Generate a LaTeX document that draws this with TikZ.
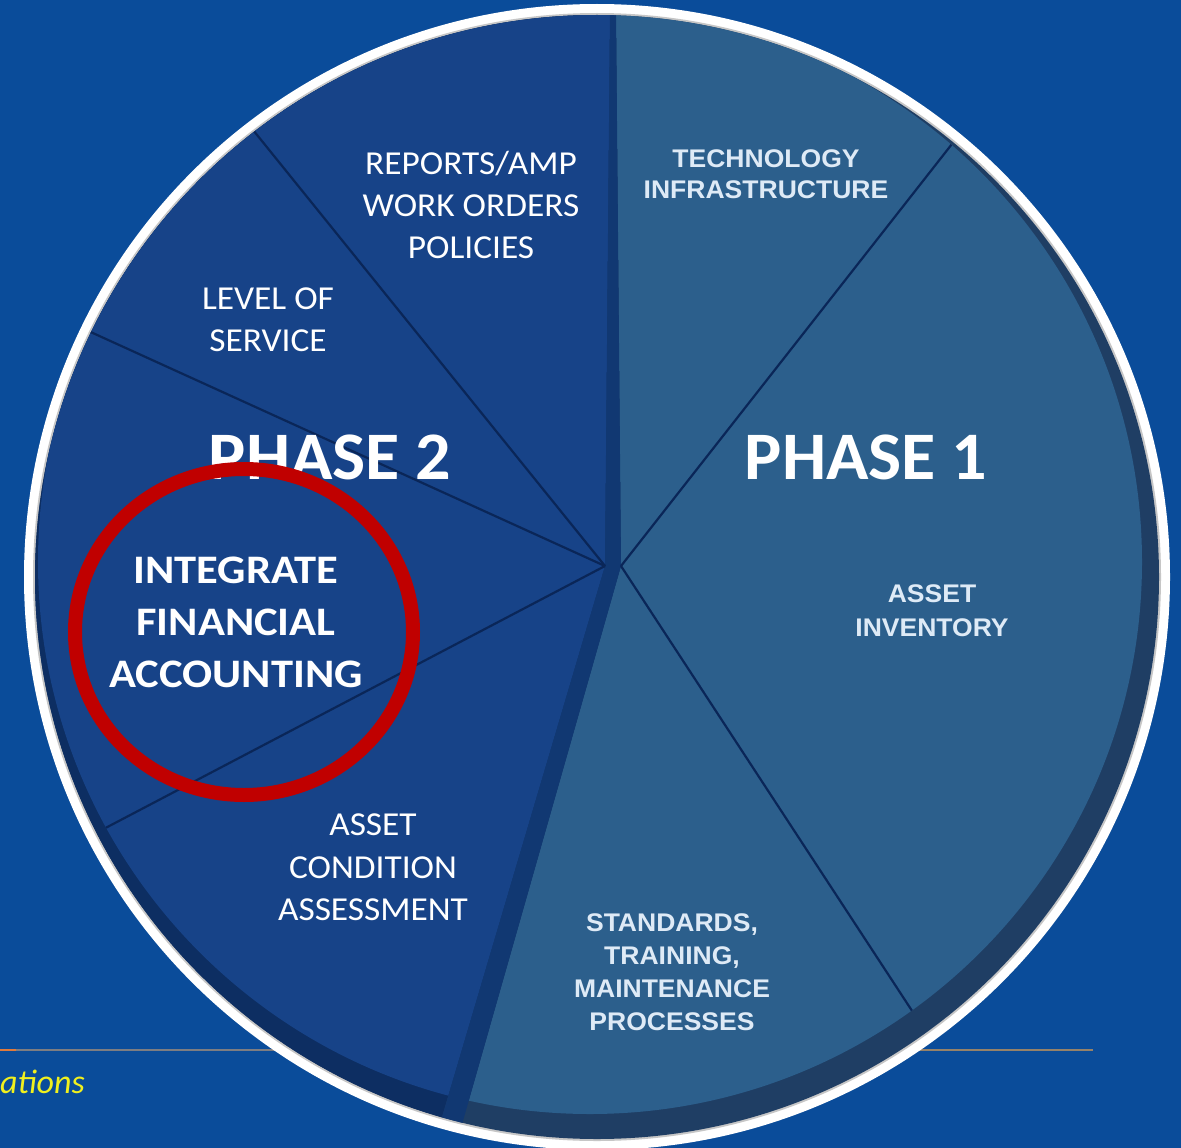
\documentclass[tikz,border=0pt]{standalone}
\usepackage{fontspec}
\setmainfont{Carlito}
\newfontfamily\calA[FakeStretch=1.055]{Carlito}
\newfontfamily\calB[FakeStretch=1.1]{Carlito}
\newfontfamily\calC[FakeStretch=1.03]{Carlito}
\newfontfamily\arialf[FakeStretch=1.04]{Liberation Sans}
\definecolor{bg}{RGB}{10,76,154}
\definecolor{ponefill}{RGB}{44,95,140}
\definecolor{ptwofill}{RGB}{23,67,136}
\definecolor{poneband}{RGB}{31,62,100}
\definecolor{ptwoband}{RGB}{13,46,98}
\definecolor{stripc}{RGB}{17,56,114}
\definecolor{divline}{RGB}{10,38,88}
\definecolor{ringred}{RGB}{192,0,0}
\definecolor{softwhite}{RGB}{222,234,246}
\definecolor{yel}{RGB}{240,240,30}
\definecolor{ruleorange}{RGB}{224,122,60}
\definecolor{rulegray}{RGB}{125,125,130}
\definecolor{ruletan}{RGB}{150,130,105}
\tikzset{
  cal/.style={text=white, inner sep=0pt, align=center},
  ari/.style={text=softwhite, inner sep=0pt, align=center},
  divider/.style={draw=divline, line width=2.2pt},
}
\begin{document}
\begin{tikzpicture}[x=1pt,y=-1pt]
\fill[bg] (0,0) rectangle (1181,1148);
\useasboundingbox (0,0) rectangle (1181,1148);
% footer rule and text
\draw[ruleorange, line width=1.5pt] (0,1050) -- (16,1050);
\draw[rulegray, line width=1.5pt] (16,1050) -- (320,1050);
\draw[ruletan, line width=1.5pt] (880,1050) -- (1093,1050);
\node[text=yel, inner sep=0pt, anchor=base east, font=\fontsize{34}{40}\selectfont\itshape] (foot) at (85,1093) {ations};
% coordinates
\coordinate (hubL) at (605,566);
\coordinate (hubR) at (621,566);
\coordinate (topL) at (611,-100);
\coordinate (topR) at (615,-100);
\coordinate (botL) at (392,1286);
\coordinate (botR) at (416,1286);
\coordinate (eA) at (90,-72);
\coordinate (eB) at (-160,218);
\coordinate (eC) at (-150,962);
\coordinate (eD) at (1130,-83);
\coordinate (eE) at (1060,1237);
% rim
\fill[white] (597,577) circle[radius=573pt];
\fill[gray!45] (597,577) circle[radius=564pt];
\begin{scope}
  \clip (597,577) circle[radius=562pt];
  \fill[poneband] (-200,-200) rectangle (1400,1400);
  \fill[ptwoband] (topL) -- (hubL) -- (botL) -- (-200,1286) -- (-200,-200) -- cycle;
  \fill[stripc] (topL) -- (hubL) -- (botL) -- (botR) -- (hubR) -- (topR) -- cycle;
  \clip (590,562) circle[radius=552pt];
  \fill[ptwofill] (topL) -- (hubL) -- (botL) -- (-200,1286) -- (-200,-200) -- cycle;
  \fill[ponefill] (topR) -- (hubR) -- (botR) -- (1400,1286) -- (1400,-200) -- cycle;
  \fill[stripc] (topL) -- (hubL) -- (botL) -- (botR) -- (hubR) -- (topR) -- cycle;
  \draw[divider] (hubL) -- (eA);
  \draw[divider] (hubL) -- (eB);
  \draw[divider] (hubL) -- (eC);
  \draw[divider] (hubR) -- (eD);
  \draw[divider] (hubR) -- (eE);
\end{scope}
% labels phase 2
\node[cal, font=\calA\fontsize{33.5}{42}\selectfont] (reports) at (471,204.5) {REPORTS/AMP\\WORK ORDERS\\POLICIES};
\node[cal, font=\calA\fontsize{33.5}{42}\selectfont] (los) at (268,320) {LEVEL OF\\SERVICE};
\node[cal, font=\calC\fontsize{68}{70}\selectfont\bfseries] (ph2) at (330,457) {PHASE 2};
\node[cal, font=\calB\fontsize{40.5}{52}\selectfont\bfseries] (ifa) at (236,622.5) {INTEGRATE\\FINANCIAL\\ACCOUNTING};
\node[cal, font=\calA\fontsize{33.5}{42.5}\selectfont] (aca) at (373,867.5) {ASSET\\CONDITION\\ASSESSMENT};
% labels phase 1
\node[cal, font=\calC\fontsize{68}{70}\selectfont\bfseries] (ph1) at (866,457) {PHASE 1};
\node[ari, font=\arialf\bfseries\fontsize{25.5}{31.5}\selectfont] (tech) at (766,174) {TECHNOLOGY\\INFRASTRUCTURE};
\node[ari, font=\arialf\bfseries\fontsize{25.5}{34}\selectfont] (inv) at (932,611) {ASSET\\INVENTORY};
\node[ari, font=\arialf\bfseries\fontsize{25.5}{33}\selectfont] (std) at (672,972.5) {STANDARDS,\\TRAINING,\\MAINTENANCE\\PROCESSES};
% red ring
\draw[ringred, line width=14pt] (244,632) ellipse[x radius=169pt, y radius=163pt];
\end{tikzpicture}
\end{document}
